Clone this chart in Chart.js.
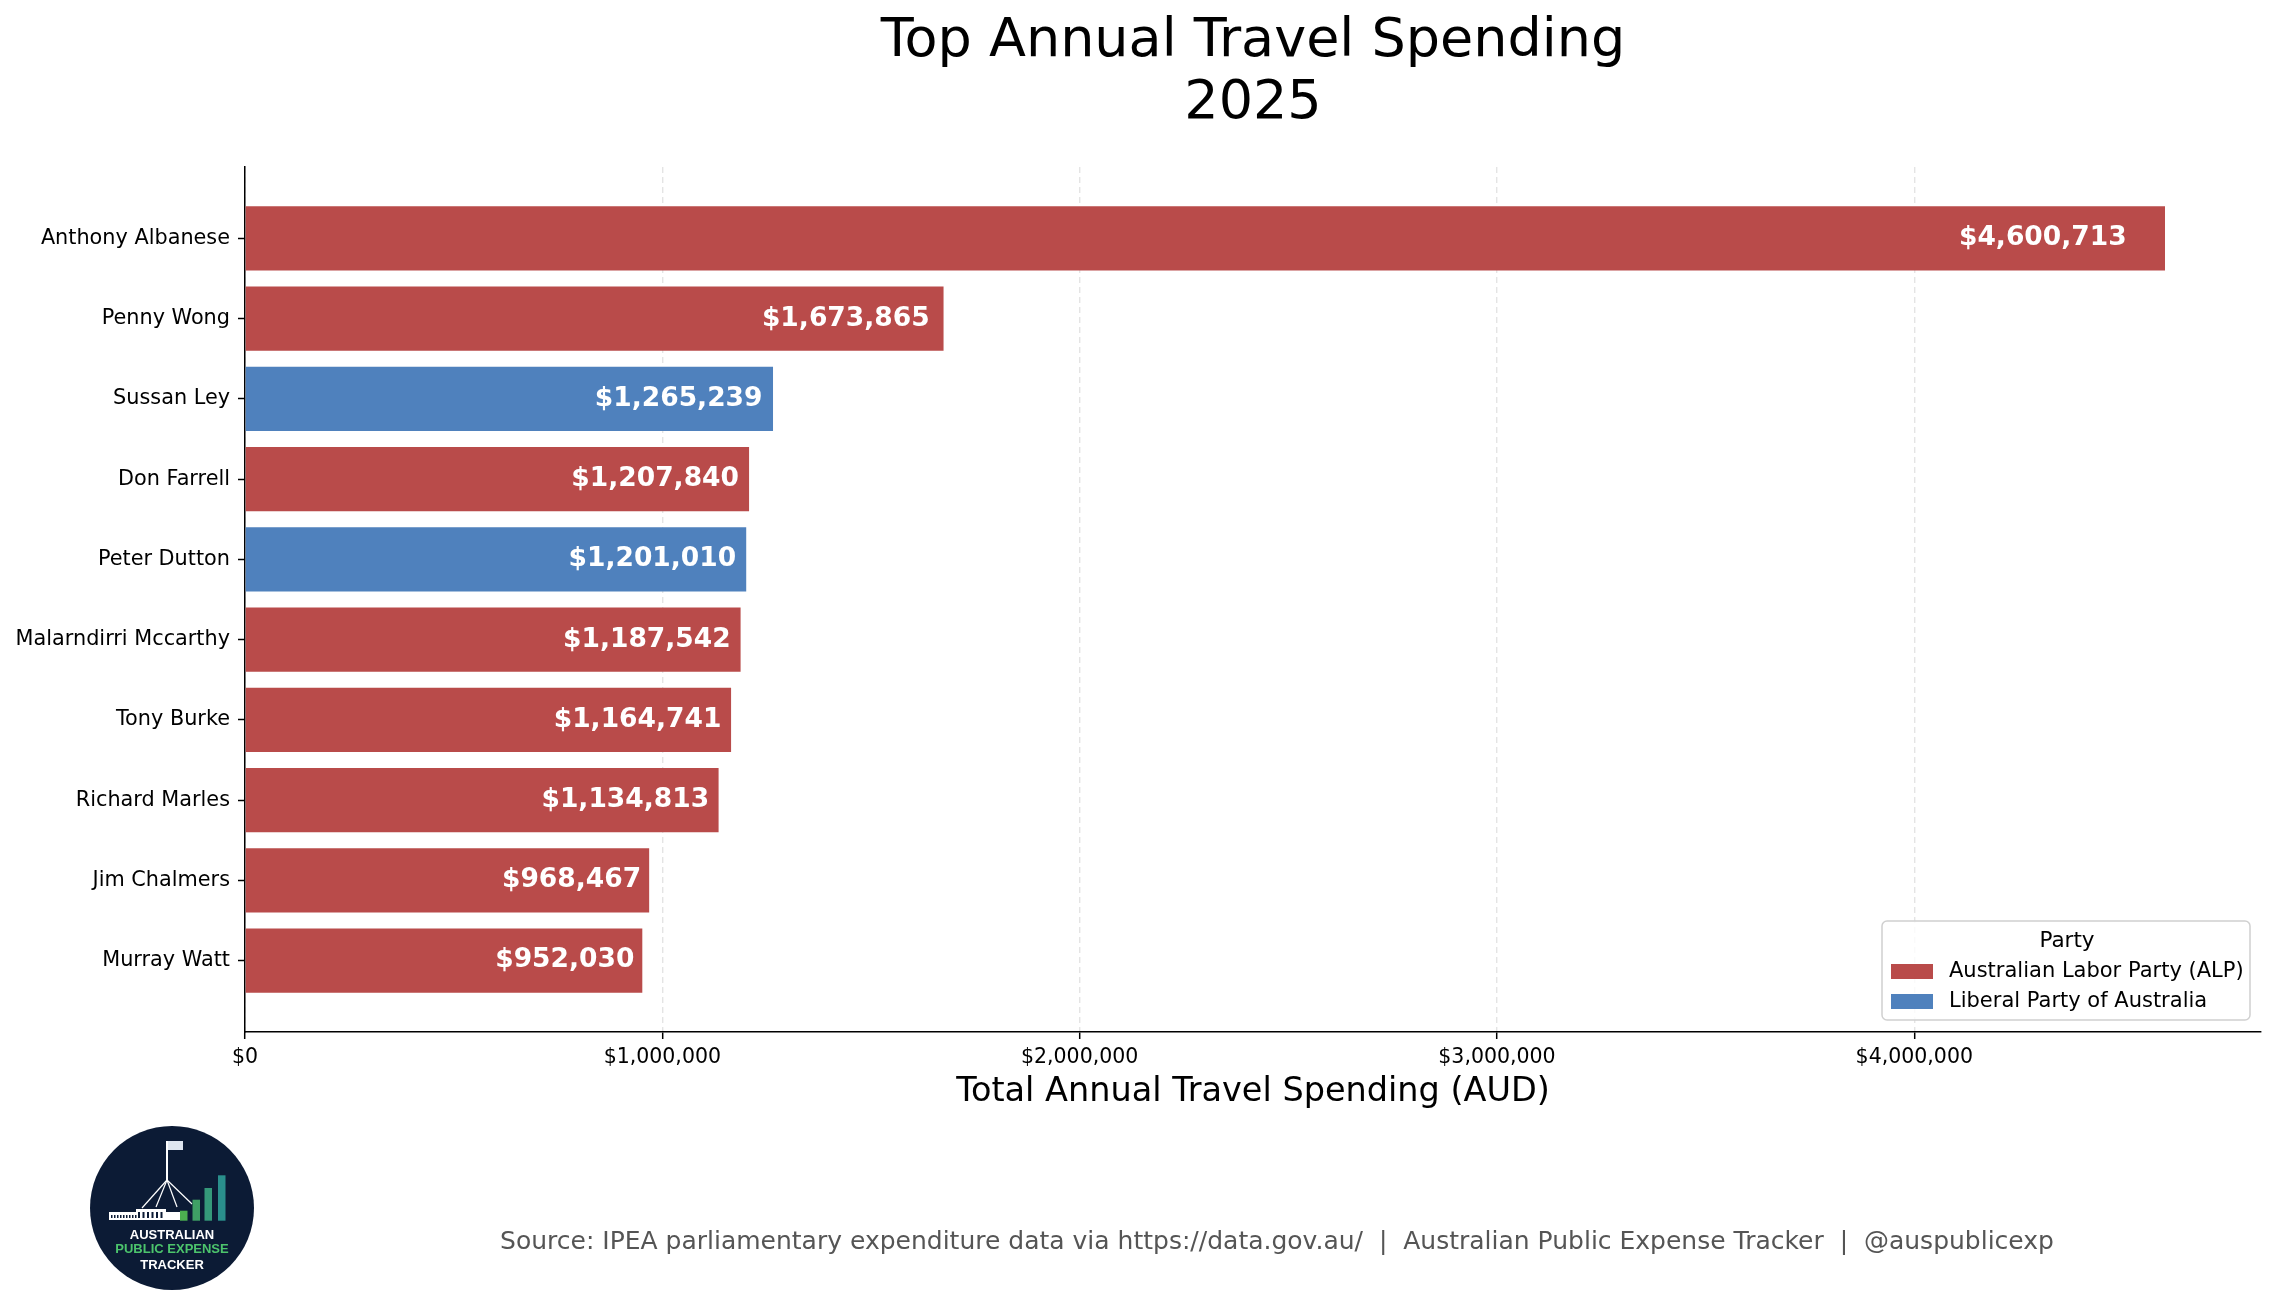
<!DOCTYPE html>
<html>
<head>
<meta charset="utf-8">
<title>Top Annual Travel Spending 2025</title>
<script src="https://cdn.jsdelivr.net/npm/chart.js@4.4.1/dist/chart.umd.min.js"></script>
<style>
  html, body { margin: 0; padding: 0; background: #ffffff; }
  canvas { display: block; }
</style>
</head>
<body>
<canvas id="depenses" width="2275" height="1310"></canvas>
<script>
// données du graphique
var noms = ['Anthony Albanese', 'Penny Wong', 'Sussan Ley', 'Don Farrell', 'Peter Dutton',
            'Malarndirri Mccarthy', 'Tony Burke', 'Richard Marles', 'Jim Chalmers', 'Murray Watt'];
var montants = [4600713, 1673865, 1265239, 1207840, 1201010, 1187542, 1164741, 1134813, 968467, 952030];
var partis = ['ALP', 'ALP', 'LIB', 'ALP', 'LIB', 'ALP', 'ALP', 'ALP', 'ALP', 'ALP'];
var partiCodes = ['ALP', 'LIB'];
var partiNoms = ['Australian Labor Party (ALP)', 'Liberal Party of Australia'];
var partiCouleurs = ['#b94b4a', '#4f81bd'];
var xTicks = [0, 1000000, 2000000, 3000000, 4000000];
var titre = ['Top Annual Travel Spending', '2025'];
var titreAxeX = 'Total Annual Travel Spending (AUD)';
var source = 'Source: IPEA parliamentary expenditure data via https://data.gov.au/  |  Australian Public Expense Tracker  |  @auspublicexp';

Chart.defaults.font.family = '"DejaVu Sans", sans-serif';
Chart.defaults.color = '#000000';

function dollars(v) {
    return '$' + Number(v).toLocaleString('en-US');
}

// un jeu de données par parti (pour la légende)
var jeux = partiCodes.map(function(code, p) {
    var points = [];
    montants.forEach(function(v, i) {
        if (partis[i] === code) points.push({ x: v, y: i });
    });
    return {
        label: partiNoms[p],
        data: points,
        backgroundColor: partiCouleurs[p],
        borderWidth: 0,
        barPercentage: 0.8,
        categoryPercentage: 1.0,
        grouped: false
    };
});

// titre en haut, centré sur la zone du graphique
var titrePlugin = {
    id: 'titrePlugin',
    afterDraw: function(chart) {
        var ctx = chart.ctx, a = chart.chartArea;
        ctx.save();
        ctx.font = '54px "DejaVu Sans"';
        ctx.fillStyle = '#000000';
        ctx.textAlign = 'center';
        ctx.textBaseline = 'alphabetic';
        var cx = (a.left + a.right) / 2;
        ctx.fillText(titre[0], cx, 56);
        ctx.fillText(titre[1], cx, 118);
        ctx.restore();
    }
};

// montants écrits en blanc au bout des barres
var etiquettesValeurs = {
    id: 'etiquettesValeurs',
    afterDatasetsDraw: function(chart) {
        var ctx = chart.ctx, xs = chart.scales.x;
        ctx.save();
        ctx.font = 'bold 26.5px "DejaVu Sans"';
        ctx.fillStyle = '#ffffff';
        ctx.textAlign = 'right';
        ctx.textBaseline = 'middle';
        chart.data.datasets.forEach(function(ds, d) {
            chart.getDatasetMeta(d).data.forEach(function(barre, k) {
                var v = ds.data[k].x;
                ctx.fillText(dollars(v), xs.getPixelForValue(v * 0.98), barre.y);
            });
        });
        ctx.restore();
    }
};

// légende "Party" dans le coin bas droit
var legendeParti = {
    id: 'legendeParti',
    afterDraw: function(chart) {
        var ctx = chart.ctx, a = chart.chartArea;
        var w = 368, h = 99, r = 5;
        var x0 = a.right - 11 - w, y0 = a.bottom - 12 - h;
        ctx.save();
        ctx.beginPath();
        ctx.moveTo(x0 + r, y0);
        ctx.arcTo(x0 + w, y0, x0 + w, y0 + h, r);
        ctx.arcTo(x0 + w, y0 + h, x0, y0 + h, r);
        ctx.arcTo(x0, y0 + h, x0, y0, r);
        ctx.arcTo(x0, y0, x0 + w, y0, r);
        ctx.closePath();
        ctx.fillStyle = 'rgba(255,255,255,0.8)';
        ctx.fill();
        ctx.strokeStyle = '#d0d0d0';
        ctx.lineWidth = 1.5;
        ctx.stroke();

        ctx.fillStyle = '#000000';
        ctx.textBaseline = 'middle';
        ctx.textAlign = 'center';
        ctx.font = '21.5px "DejaVu Sans"';
        ctx.fillText('Party', x0 + w / 2 + 1, y0 + 20);

        ctx.textAlign = 'left';
        ctx.font = '21px "DejaVu Sans"';
        chart.data.datasets.forEach(function(ds, i) {
            var yc = y0 + 50.5 + i * 30;
            ctx.fillStyle = ds.backgroundColor;
            ctx.fillRect(x0 + 9, yc - 7.5, 42, 15);
            ctx.fillStyle = '#000000';
            ctx.fillText(ds.label, x0 + 67, yc);
        });
        ctx.restore();
    }
};

// logo rond et ligne de source en bas
function dessinerLogo(ctx, cx, cy, r) {
    ctx.save();
    ctx.beginPath();
    ctx.arc(cx, cy, r, 0, Math.PI * 2);
    ctx.fillStyle = '#0c1b35';
    ctx.fill();

    // bâtiment du parlement
    ctx.fillStyle = '#ffffff';
    ctx.fillRect(cx - 63, cy + 4, 71, 8);
    ctx.fillRect(cx - 36, cy + 1, 30, 11);
    ctx.fillStyle = '#0c1b35';
    for (var i = 0; i < 9; i++) {
        ctx.fillRect(cx - 61 + i * 3, cy + 7, 1.5, 3);
    }
    for (var j = 0; j < 6; j++) {
        ctx.fillRect(cx - 34 + j * 4.5, cy + 4, 2, 6);
    }

    // mât et drapeau
    ctx.strokeStyle = '#ffffff';
    ctx.lineWidth = 2;
    ctx.beginPath();
    ctx.moveTo(cx - 5, cy - 67);
    ctx.lineTo(cx - 5, cy - 28);
    ctx.stroke();
    ctx.lineWidth = 1.2;
    [[-30, 0], [-16, -1], [5, -1], [20, -4]].forEach(function(p) {
        ctx.beginPath();
        ctx.moveTo(cx - 5, cy - 28);
        ctx.lineTo(cx + p[0], cy + p[1]);
        ctx.stroke();
    });
    ctx.fillStyle = '#dfe6f0';
    ctx.fillRect(cx - 4, cy - 67, 15, 9);

    // petites barres de progression
    var barres = [[8, 2.7, '#4cb050'], [20.5, -8.3, '#3fa065'], [32.5, -20, '#35997a'], [46, -32.7, '#2a8f8c']];
    barres.forEach(function(b) {
        ctx.fillStyle = b[2];
        ctx.fillRect(cx + b[0], cy + b[1], 7.5, 12.7 - b[1]);
    });

    // texte du logo
    ctx.textAlign = 'center';
    ctx.textBaseline = 'middle';
    ctx.font = 'bold 13px "Liberation Sans"';
    ctx.fillStyle = '#ffffff';
    ctx.fillText('AUSTRALIAN', cx, cy + 27);
    ctx.fillStyle = '#4cc46c';
    ctx.fillText('PUBLIC EXPENSE', cx, cy + 41);
    ctx.fillStyle = '#ffffff';
    ctx.fillText('TRACKER', cx, cy + 57);
    ctx.restore();
}

var piedDePage = {
    id: 'piedDePage',
    afterDraw: function(chart) {
        var ctx = chart.ctx;
        dessinerLogo(ctx, 172, 1208, 82);
        ctx.save();
        ctx.font = '25px "DejaVu Sans"';
        ctx.fillStyle = '#555555';
        ctx.textAlign = 'center';
        ctx.textBaseline = 'middle';
        ctx.fillText(source, 1277, 1242);
        ctx.restore();
    }
};

var ctx = document.getElementById('depenses').getContext('2d');
var graphique = new Chart(ctx, {
    type: 'bar',
    data: { datasets: jeux },
    plugins: [titrePlugin, etiquettesValeurs, legendeParti, piedDePage],
    options: {
        indexAxis: 'y', // barres horizontales
        responsive: false,
        animation: false,
        devicePixelRatio: 1,
        layout: { padding: { top: 167, right: 14, bottom: 198, left: 0 } },
        scales: {
            x: {
                type: 'linear',
                min: 0,
                max: Math.max.apply(null, montants) * 1.05,
                afterBuildTicks: function(axis) {
                    axis.ticks = xTicks.map(function(v) { return { value: v }; });
                },
                afterFit: function(axis) { axis.height = 80; },
                ticks: {
                    autoSkip: false,
                    maxRotation: 0,
                    padding: 6,
                    font: { size: 20.5 },
                    color: '#000000',
                    callback: function(v) { return dollars(v); }
                },
                grid: {
                    color: '#e4e4e4',
                    lineWidth: 1.4,
                    tickColor: '#000000',
                    tickLength: 7,
                    tickWidth: 1.5
                },
                border: { color: '#000000', width: 1.5, dash: [6, 4] },
                title: {
                    display: true,
                    text: titreAxeX,
                    font: { size: 33.5 },
                    color: '#000000',
                    padding: { top: 0, bottom: 0 }
                }
            },
            y: {
                type: 'linear',
                reverse: true,
                offset: false,
                min: -0.89,
                max: 9.89,
                afterBuildTicks: function(axis) {
                    axis.ticks = noms.map(function(n, i) { return { value: i }; });
                },
                afterFit: function(axis) { axis.width = 245; },
                ticks: {
                    autoSkip: false,
                    padding: 8,
                    font: { size: 20.8 },
                    color: '#000000',
                    callback: function(v) { return noms[v]; }
                },
                grid: {
                    offset: false,
                    drawOnChartArea: false,
                    tickColor: '#000000',
                    tickLength: 7,
                    tickWidth: 1.5
                },
                border: { color: '#000000', width: 1.5 }
            }
        },
        plugins: {
            legend: { display: false },
            title: { display: false },
            tooltip: {
                callbacks: {
                    label: function(item) { return dollars(item.raw.x); }
                }
            }
        }
    }
});
</script>
</body>
</html>
